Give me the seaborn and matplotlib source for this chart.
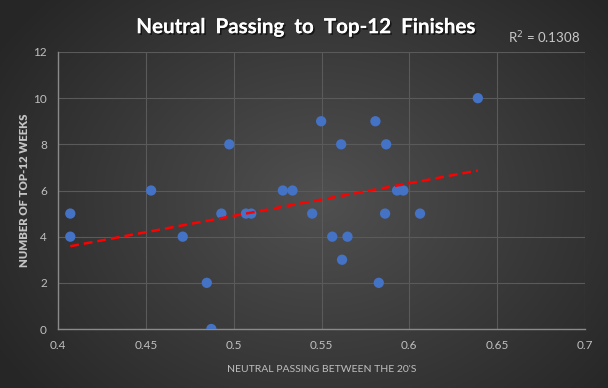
import numpy as np
import pandas as pd
import matplotlib
matplotlib.use("Agg")
import matplotlib.pyplot as plt
import seaborn as sns
from matplotlib import patheffects as pe

neutral_passing = [0.407, 0.407, 0.453, 0.471, 0.493, 0.4975, 0.4847, 0.4873,
                   0.507, 0.510, 0.528, 0.5335, 0.5447, 0.5498, 0.5612, 0.5561,
                   0.5648, 0.5617, 0.5807, 0.5868, 0.5826, 0.5862, 0.5930,
                   0.5966, 0.6061, 0.6390]
top12_weeks = [5, 4, 6, 4, 5, 8, 2, 0,
               5, 5, 6, 6, 5, 9, 8, 4,
               4, 3, 9, 8, 2, 5, 6,
               6, 5, 10]
x_ticks = [0.4, 0.45, 0.5, 0.55, 0.6, 0.65, 0.7]
x_tick_labels = ["0.4", "0.45", "0.5", "0.55", "0.6", "0.65", "0.7"]
y_ticks = [0, 2, 4, 6, 8, 10, 12]
title = "Neutral  Passing  to  Top-12  Finishes"
r2_text = "R$^2$ = 0.1308"

df = pd.DataFrame({"x": neutral_passing, "y": top12_weeks})

sns.set_theme(style="dark")
plt.rcParams["font.family"] = ["Lato", "DejaVu Sans"]

fig = plt.figure(figsize=(6.08, 3.88), dpi=100)

# radial gradient background
bg = fig.add_axes([0, 0, 1, 1], zorder=-10)
W, H = 608, 388
yy, xx = np.mgrid[0:H, 0:W]
cx, cy = 320, 200
r = np.sqrt(((xx - cx) / 380.0) ** 2 + ((yy - cy) / 300.0) ** 2)
r = np.clip(r, 0, 1)
inner = np.array([0x50, 0x50, 0x50]) / 255.0
outer = np.array([0x26, 0x26, 0x26]) / 255.0
img = inner[None, None, :] * (1 - r[..., None]) + outer[None, None, :] * r[..., None]
bg.imshow(img, aspect="auto", extent=[0, 1, 0, 1], origin="upper")
bg.axis("off")

ax = fig.add_axes([58 / 608, 1 - 329 / 388, (585 - 58) / 608, (329 - 52) / 388])
ax.set_facecolor("none")
ax.patch.set_alpha(0)

sns.scatterplot(data=df, x="x", y="y", ax=ax, color="#4472C4", s=55,
                edgecolor="none", zorder=3, legend=False)

coef = np.polyfit(df["x"], df["y"], 1)
xs = np.array([df["x"].min(), df["x"].max()])
sns.lineplot(x=xs, y=np.polyval(coef, xs), ax=ax, color="#ff0000",
             linewidth=1.8, zorder=4)
ax.lines[-1].set_dashes([3.5, 2.0])

ax.set_xlim(0.4, 0.7)
ax.set_ylim(0, 12)
ax.set_xticks(x_ticks)
ax.set_xticklabels(x_tick_labels)
ax.set_yticks(y_ticks)
ax.grid(True, color="#5a5a5a", linewidth=0.8)
ax.set_axisbelow(True)
for s in ["top", "right"]:
    ax.spines[s].set_visible(False)
for s in ["bottom", "left"]:
    ax.spines[s].set_visible(True)
    ax.spines[s].set_color("#8a8a8a")
    ax.spines[s].set_linewidth(1.0)
ax.tick_params(axis="both", colors="#bfbfbf", labelsize=8.5, length=0, pad=8)

ax.set_xlabel("NEUTRAL PASSING BETWEEN THE 20'S", color="#bfbfbf",
              fontsize=7.5, labelpad=10)
ax.set_ylabel("NUMBER OF TOP-12 WEEKS", color="#c4c4c4", fontsize=8.2,
              fontweight="heavy", labelpad=2)

fig.text(0.502, 0.93, title, ha="center", va="center", color="white",
         fontsize=14.8, fontweight="bold",
         path_effects=[pe.withSimplePatchShadow(offset=(1.2, -1.2),
                                                 shadow_rgbFace="black", alpha=0.6),
                       pe.Normal()])
fig.text(0.835, 0.903, r2_text, ha="left", va="center", color="#c8c8c8",
         fontsize=9.5)

fig.savefig("out.png", dpi=100)
